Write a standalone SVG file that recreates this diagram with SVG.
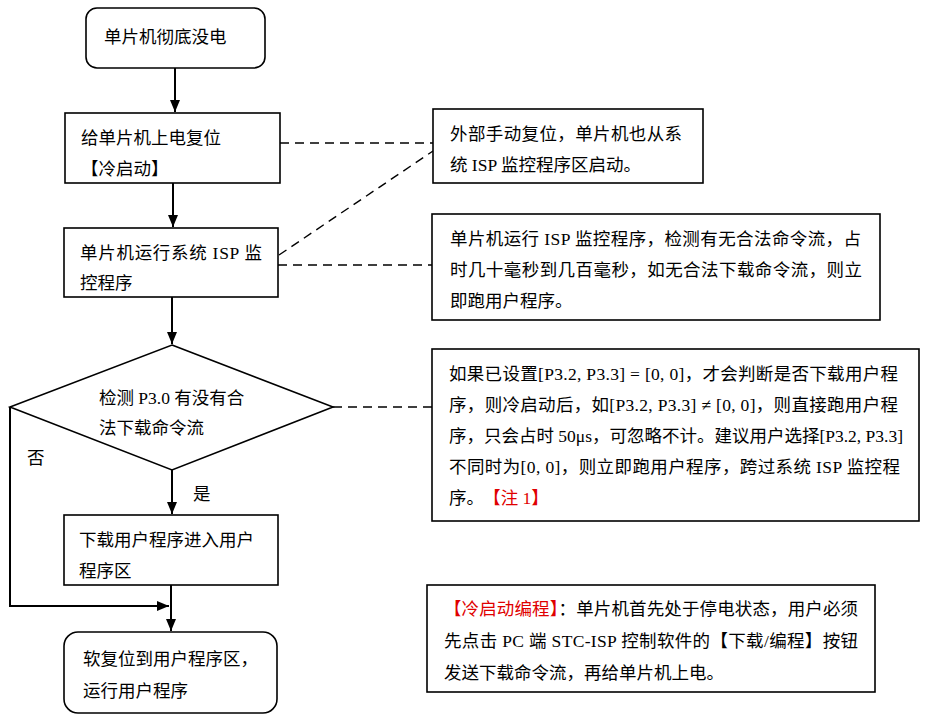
<svg xmlns="http://www.w3.org/2000/svg" width="927" height="723" viewBox="0 0 927 723">
<defs>
<marker id="arr" markerUnits="userSpaceOnUse" markerWidth="12" markerHeight="10" refX="12" refY="5" orient="auto"><path d="M0,0 L12,5 L0,10 z" fill="#000"/></marker>
<style>
text{font-family:"Liberation Serif","Noto Sans CJK SC",serif;font-size:17.5px;fill:#000}
.box{fill:#fff;stroke:#000;stroke-width:1.6}
.ln{fill:none;stroke:#000;stroke-width:2}
.dash{fill:none;stroke:#000;stroke-width:1.4;stroke-dasharray:9,6}
.red{fill:#e00000}
</style>
</defs>
<rect width="927" height="723" fill="#fff"/>
<g id="connectors">
<line class="ln" x1="175" y1="68" x2="175" y2="112" marker-end="url(#arr)"/>
<line class="ln" x1="173" y1="183" x2="173" y2="227" marker-end="url(#arr)"/>
<line class="ln" x1="172" y1="297" x2="172" y2="344" marker-end="url(#arr)"/>
<line class="ln" x1="172" y1="470" x2="172" y2="514" marker-end="url(#arr)"/>
<line class="ln" x1="171" y1="585" x2="171" y2="631" marker-end="url(#arr)"/>
<polyline class="ln" points="10,407 10,606 169,606" marker-end="url(#arr)"/>
<line class="dash" x1="280" y1="143" x2="433" y2="143"/>
<line class="dash" x1="279" y1="255" x2="433" y2="151"/>
<line class="dash" x1="278" y1="265" x2="432" y2="265"/>
<line class="dash" x1="333" y1="407" x2="432" y2="407"/>
</g>
<g id="n1"><rect class="box" x="86" y="8" width="179" height="60" rx="11"/><text x="104" y="42.5">单片机彻底没电</text></g>
<g id="n2"><rect class="box" x="65" y="113" width="215" height="70"/><text x="81" y="143.5">给单片机上电复位</text><text x="81" y="174.5">【冷启动】</text></g>
<g id="n3"><rect class="box" x="64" y="228" width="214" height="69"/><text x="80" y="258.5" textLength="182" lengthAdjust="spacing">单片机运行系统 ISP 监</text><text x="80" y="288.5">控程序</text></g>
<g id="d1"><polygon class="box" points="172,345 333,407 172,470 10,407"/><text x="99" y="403.5">检测 P3.0 有没有合</text><text x="99" y="433.5">法下载命令流</text></g>
<g id="lbl-no"><text x="27" y="463.5">否</text></g>
<g id="lbl-yes"><text x="193" y="499.5">是</text></g>
<g id="n4"><rect class="box" x="64" y="515" width="214" height="70"/><text x="79" y="545.5">下载用户程序进入用户</text><text x="79" y="576.5">程序区</text></g>
<g id="n5"><rect class="box" x="64" y="632" width="213" height="81" rx="14"/><text x="83" y="664.5">软复位到用户程序区，</text><text x="83" y="696.5">运行用户程序</text></g>
<g id="a1"><rect class="box" x="433" y="109" width="270" height="74"/><text x="450" y="139.5" textLength="232" lengthAdjust="spacing">外部手动复位，单片机也从系</text><text x="450" y="170.5">统 ISP 监控程序区启动。</text></g>
<g id="a2"><rect class="box" x="432" y="214" width="448" height="106"/><text x="450" y="244.5" textLength="411" lengthAdjust="spacing">单片机运行 ISP 监控程序，检测有无合法命令流，占</text><text x="450" y="276" textLength="412" lengthAdjust="spacing">时几十毫秒到几百毫秒，如无合法下载命令流，则立</text><text x="450" y="307">即跑用户程序。</text></g>
<g id="a3"><rect class="box" x="432" y="349" width="487" height="172"/>
<text x="449" y="379.5" textLength="449" lengthAdjust="spacing">如果已设置[P3.2, P3.3] = [0, 0]，才会判断是否下载用户程</text>
<text x="449" y="410.5" textLength="449" lengthAdjust="spacing">序，则冷启动后，如[P3.2, P3.3] ≠ [0, 0]，则直接跑用户程</text>
<text x="449" y="441.5" textLength="454" lengthAdjust="spacing">序，只会占时 50μs，可忽略不计。建议用户选择[P3.2, P3.3]</text>
<text x="449" y="472.5" textLength="451" lengthAdjust="spacing">不同时为[0, 0]，则立即跑用户程序，跨过系统 ISP 监控程</text>
<text x="449" y="503.5">序。<tspan class="red" dx="8">【注 1】</tspan></text></g>
<g id="a4"><rect class="box" x="427" y="585" width="448" height="107"/>
<text x="444" y="614.5" textLength="414" lengthAdjust="spacing"><tspan class="red">【冷启动编程】</tspan>：单片机首先处于停电状态，用户必须</text>
<text x="444" y="646.5" textLength="414" lengthAdjust="spacing">先点击 PC 端 STC-ISP 控制软件的【下载/编程】按钮</text>
<text x="444" y="678.5">发送下载命令流，再给单片机上电。</text></g>
</svg>
